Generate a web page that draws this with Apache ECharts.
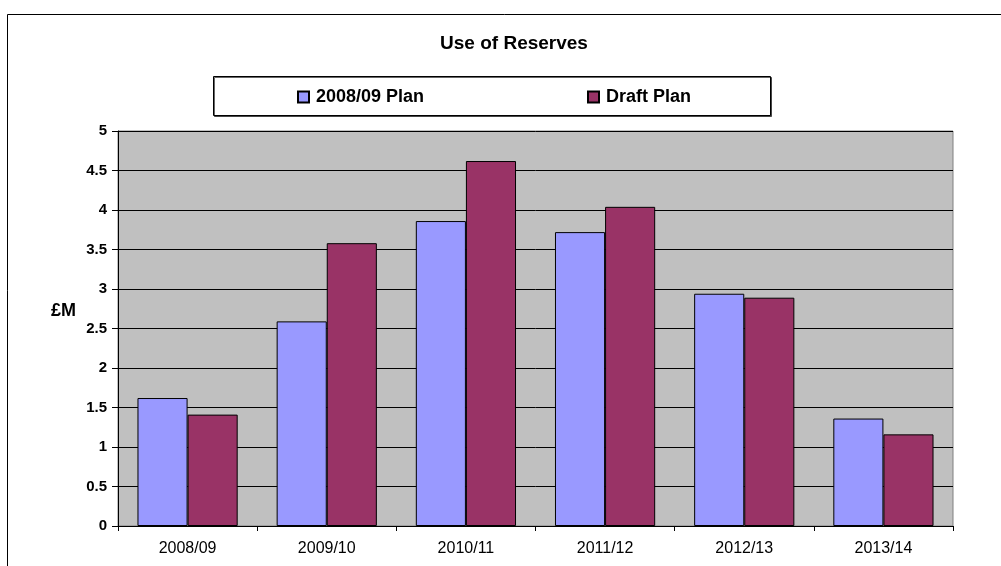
<!DOCTYPE html>
<html><head><meta charset="utf-8">
<script src="https://cdn.jsdelivr.net/npm/echarts@6/dist/echarts.min.js"></script>
<style>html,body{margin:0;padding:0;background:#fff}#c{width:1001px;height:566px}</style>
</head><body><div id="c"></div>
<script>
const categories = ['2008/09','2009/10','2010/11','2011/12','2012/13','2013/14'];
const plan0809 = [1.62, 2.59, 3.86, 3.72, 2.94, 1.36];
const draftPlan = [1.41, 3.58, 4.62, 4.04, 2.89, 1.16];
const yTicks = {min:0, max:5, interval:0.5};

const chart = echarts.init(document.getElementById('c'));
const FF = '"Liberation Sans", Arial, sans-serif';
const legendText = {fontFamily:FF,fontSize:18,fontWeight:'bold',color:'#000',padding:[0,0,0,2]};
chart.setOption({
  animation:false,
  backgroundColor:'#fff',
  title:{text:'Use of Reserves', left:514, textAlign:'center', top:34, padding:0,
    textStyle:{fontFamily:FF,fontSize:19,fontWeight:'bold',color:'#000'}},
  graphic:[
    {type:'rect', shape:{x:7.5,y:14.5,width:1100,height:700}, style:{fill:null, stroke:'#000', lineWidth:1}, silent:true, z:-1},
    {type:'rect', shape:{x:213.5,y:76.5,width:557,height:39}, style:{fill:'#fff', stroke:'#000', lineWidth:1, shadowColor:'rgba(0,0,0,0.6)', shadowOffsetX:1, shadowOffsetY:1}, silent:true, z:0},
    {type:'text', left:51, top:302, style:{text:'£M', font:'bold 18px '+FF, fill:'#000'}, silent:true}
  ],
  legend:[
    {data:[{name:'2008/09 Plan', icon:'rect'}], left:297, top:88, padding:0, itemWidth:11, itemHeight:11, itemGap:5, textStyle:legendText, z:5},
    {data:[{name:'Draft Plan', icon:'rect'}], left:587, top:88, padding:0, itemWidth:11, itemHeight:11, itemGap:5, textStyle:legendText, z:5}
  ],
  grid:{left:118, right:48, top:131, bottom:40, show:true, backgroundColor:'#c0c0c0', borderColor:'#808080', borderWidth:1},
  xAxis:{type:'category', data:categories,
    axisLine:{lineStyle:{color:'#000',width:1}},
    axisTick:{show:true, length:5, lineStyle:{color:'#000'}},
    axisLabel:{fontFamily:FF, fontSize:16, color:'#000', margin:15}},
  yAxis:{type:'value', min:yTicks.min, max:yTicks.max, interval:yTicks.interval,
    axisLine:{show:true, lineStyle:{color:'#000',width:1}},
    axisTick:{show:true, length:6, lineStyle:{color:'#000'}},
    splitLine:{lineStyle:{color:'#000', width:1}},
    axisLabel:{fontFamily:FF, fontSize:15, fontWeight:'bold', color:'#000', margin:11, formatter:v=>String(v)}},
  series:[
    {name:'2008/09 Plan', type:'bar', data:plan0809, barGap:'0%', barCategoryGap:'28%',
      itemStyle:{color:'#9999ff', borderColor:'#000', borderWidth:1}},
    {name:'Draft Plan', type:'bar', data:draftPlan,
      itemStyle:{color:'#993366', borderColor:'#000', borderWidth:1}}
  ]
});
</script></body></html>
